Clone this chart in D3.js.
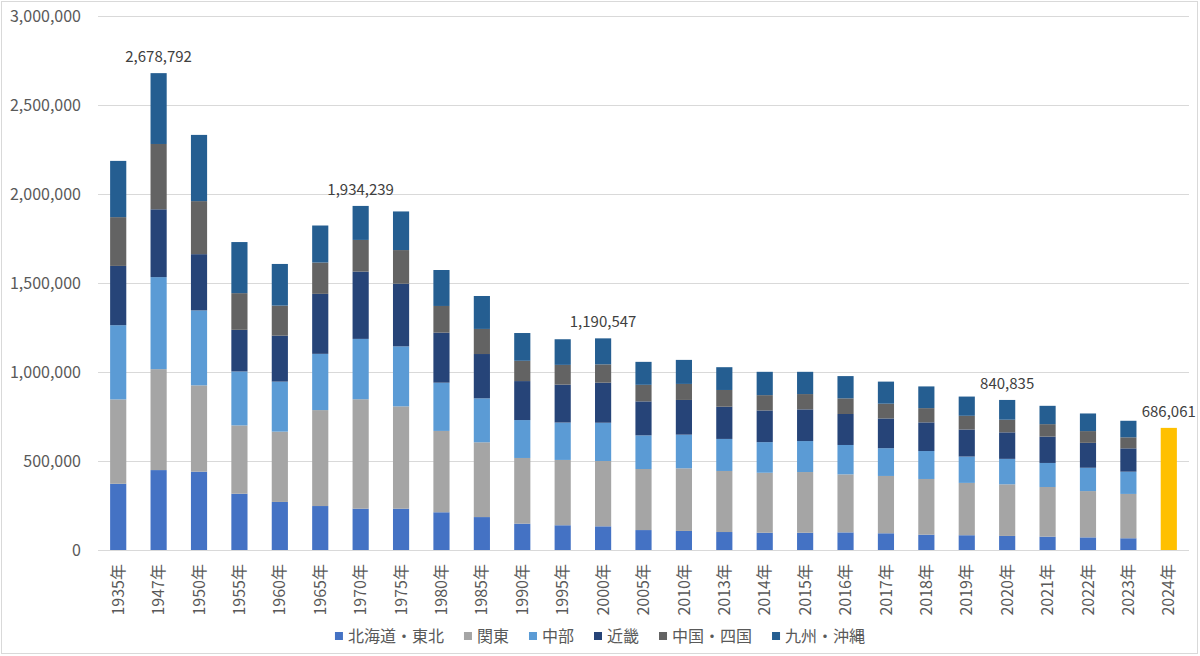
<!DOCTYPE html>
<html>
<head>
<meta charset="utf-8">
<script src="https://d3js.org/d3.v7.min.js"></script>
<style>
    body { margin: 0; background: #fff; }
    text { font-family: "Noto Sans CJK JP", "Noto Sans", sans-serif; }
</style>
</head>
<body>
<script>

//categories on the x axis
var years = ["1935年", "1947年", "1950年", "1955年", "1960年", "1965年", "1970年", "1975年", "1980年",
    "1985年", "1990年", "1995年", "2000年", "2005年", "2010年", "2013年", "2014年", "2015年", "2016年",
    "2017年", "2018年", "2019年", "2020年", "2021年", "2022年", "2023年", "2024年"];

//regional values, 1935-2023
var hokkaidoTohoku = [372000, 449000, 440000, 316000, 270000, 247000, 232000, 232000, 212000, 185000,
    148000, 139000, 133000, 112000, 107000, 101000, 97000, 97000, 99000, 94000, 86000, 83000, 79000, 75000, 71000, 66000];
var kanto = [474000, 567000, 485000, 384000, 395000, 539000, 615000, 575000, 457000, 420000,
    369000, 367000, 367000, 343000, 352000, 343000, 337000, 341000, 326000, 322000, 313000, 294000, 290000, 279000, 260000, 249000];
var chubu = [417000, 517000, 421000, 303000, 281000, 316000, 339000, 337000, 271000, 247000,
    213000, 210000, 215000, 189000, 189000, 180000, 172000, 174000, 165000, 156000, 157000, 148000, 143000, 135000, 131000, 125000];
var kinki = [333000, 381000, 316000, 234000, 258000, 337000, 378000, 352000, 281000, 249000,
    219000, 213000, 225000, 191000, 195000, 181000, 178000, 178000, 174000, 167000, 161000, 152000, 149000, 148000, 140000, 131000];
var chugokuShikoku = [274000, 367000, 298000, 206000, 169000, 176000, 178000, 189000, 150000, 141000,
    114000, 111000, 103000, 93000, 90000, 94000, 86000, 86000, 88000, 83000, 80000, 77000, 71000, 70000, 66000, 62000];
var kyushuOkinawa = [316000, 398000, 372000, 287000, 234000, 208000, 191000, 217000, 202000, 185000,
    156000, 144000, 146000, 129000, 135000, 128000, 131000, 125000, 125000, 124000, 122000, 108000, 111000, 103000, 99000, 93000];

//series names (legend order, bottom to top)
var seriesNames = ["北海道・東北", "関東", "中部", "近畿", "中国・四国", "九州・沖縄"];

//2024 is only a national total
var totalYear = "2024年";
var totalValue = 686061;

//bars that carry a total label
var labelYears = ["1947年", "1970年", "2000年", "2020年", "2024年"];
var labelValues = [2678792, 1934239, 1190547, 840835, 686061];

//y axis ticks
var yTicks = [0, 500000, 1000000, 1500000, 2000000, 2500000, 3000000];

//begin script when window loads
window.onload = setChart();

function setChart(){
    //frame dimensions
    var width = 1200,
        height = 656,
        left = 98,
        right = 1189,
        top = 16,
        bottom = 550;

    var colors = ["#4472C4", "#A5A5A5", "#5B9BD5", "#264478", "#636363", "#255E91"];
    var totalColor = "#FFC000";

    var svg = d3.select("body")
        .append("svg")
        .attr("width", width)
        .attr("height", height);

    //chart area border
    svg.append("rect")
        .attr("x", 1.5)
        .attr("y", 1.5)
        .attr("width", width - 4)
        .attr("height", height - 4)
        .style("fill", "#fff")
        .style("stroke", "#D9D9D9")
        .style("stroke-width", 1);

    //scales
    var x = d3.scaleBand()
        .domain(years)
        .range([left, right])
        .paddingInner(0.6)
        .paddingOuter(0.3);

    var y = d3.scaleLinear()
        .domain([0, 3000000])
        .range([bottom, top]);

    //gridlines and y labels
    var yAxis = d3.axisLeft(y)
        .tickValues(yTicks)
        .tickSize(-(right - left))
        .tickPadding(17)
        .tickFormat(d3.format(","));

    var axis = svg.append("g")
        .attr("class", "axis")
        .attr("transform", "translate(" + left + ",0)")
        .call(yAxis);

    axis.select(".domain").remove();
    axis.selectAll(".tick line")
        .style("stroke", "#D9D9D9")
        .style("stroke-width", 1);
    axis.selectAll(".tick text")
        .style("font-size", "16px")
        .style("fill", "#595959");

    //build rows for the stacked regions
    var rows = [];
    var regional = [hokkaidoTohoku, kanto, chubu, kinki, chugokuShikoku, kyushuOkinawa];
    for (var i = 0; i < hokkaidoTohoku.length; i++){
        var row = { year: years[i] };
        seriesNames.forEach(function(name, s){
            row[name] = regional[s][i];
        });
        rows.push(row);
    };

    var stack = d3.stack().keys(seriesNames)(rows);

    //stacked bars
    var layers = svg.selectAll(".layer")
        .data(stack)
        .enter()
        .append("g")
        .attr("class", "layer")
        .style("fill", function(d, i){ return colors[i]; });

    layers.selectAll("rect")
        .data(function(d){ return d; })
        .enter()
        .append("rect")
        .attr("x", function(d){ return x(d.data.year); })
        .attr("y", function(d){ return y(d[1]); })
        .attr("width", x.bandwidth())
        .attr("height", function(d){ return y(d[0]) - y(d[1]); });

    //2024 total bar
    svg.append("rect")
        .attr("x", x(totalYear))
        .attr("y", y(totalValue))
        .attr("width", x.bandwidth())
        .attr("height", y(0) - y(totalValue))
        .style("fill", totalColor);

    //total labels
    svg.selectAll(".totalLabel")
        .data(labelYears)
        .enter()
        .append("text")
        .attr("class", "totalLabel")
        .attr("x", function(d){ return x(d) + x.bandwidth() / 2; })
        .attr("y", function(d, i){ return y(labelValues[i]) - 11; })
        .attr("text-anchor", "middle")
        .style("font-size", "15px")
        .style("fill", "#404040")
        .text(function(d, i){ return d3.format(",")(labelValues[i]); });

    //x labels, rotated
    svg.selectAll(".yearLabel")
        .data(years)
        .enter()
        .append("text")
        .attr("class", "yearLabel")
        .attr("transform", function(d){
            return "translate(" + (x(d) + x.bandwidth() / 2) + ",564) rotate(-90)";
        })
        .attr("text-anchor", "end")
        .attr("dy", "0.35em")
        .style("font-size", "16px")
        .style("fill", "#595959")
        .text(function(d){ return d; });

    //legend, laid out left to right and centred
    var legend = svg.append("g").attr("class", "legend");
    var cursor = 0;
    seriesNames.forEach(function(name, i){
        var item = legend.append("g").attr("transform", "translate(" + cursor + ",0)");
        item.append("rect")
            .attr("x", 0)
            .attr("y", -4)
            .attr("width", 8)
            .attr("height", 8)
            .style("fill", colors[i]);
        var label = item.append("text")
            .attr("x", 13)
            .attr("dy", "0.35em")
            .style("font-size", "16px")
            .style("fill", "#595959")
            .text(name);
        cursor += 13 + label.node().getComputedTextLength() + 20;
    });
    var legendWidth = cursor - 20;
    legend.attr("transform", "translate(" + (width / 2 - legendWidth / 2) + ",636)");
};

</script>
</body>
</html>
